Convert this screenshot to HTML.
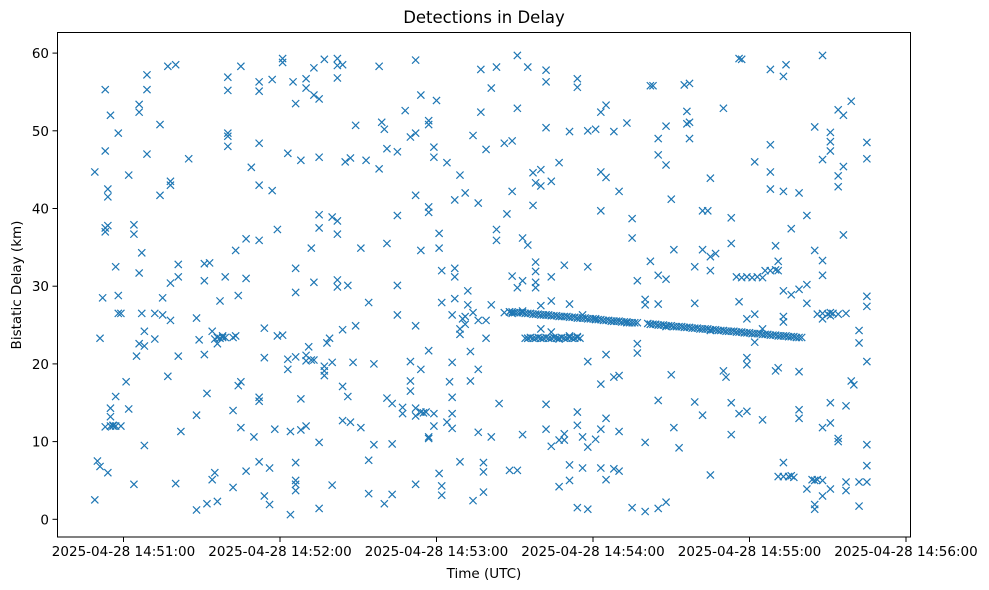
<!DOCTYPE html>
<html><head><meta charset="utf-8"><style>
html,body{margin:0;padding:0;background:#fff;}
svg{display:block;font-family:"DejaVu Sans","Liberation Sans",sans-serif;}
</style></head><body>
<svg id="chart" width="989" height="590" viewBox="0 0 989 590">
<rect x="0" y="0" width="989" height="590" fill="#fff"/>
<text x="484" y="23" font-size="16.5" text-anchor="middle" fill="#000">Detections in Delay</text>
<g id="marks"></g>
<g id="xaxis"></g>
<g id="yaxis"></g>
<rect x="57.5" y="32.5" width="853" height="504.5" fill="none" stroke="#000" stroke-width="1"/>
<text x="484" y="578" font-size="13.5" text-anchor="middle" fill="#000">Time (UTC)</text>
<text transform="translate(21,285) rotate(-90)" font-size="13.5" text-anchor="middle" fill="#000">Bistatic Delay (km)</text>
</svg>
<script>
// seconds after 14:50:00 UTC, delay in km
const xTickSeconds = [60,120,180,240,300,360];
const xTickLabels = ["2025-04-28 14:51:00","2025-04-28 14:52:00","2025-04-28 14:53:00","2025-04-28 14:54:00","2025-04-28 14:55:00","2025-04-28 14:56:00"];
const yTicks = [0,10,20,30,40,50,60];
const detections = [
[49,44.7],[49,2.5],[50,7.5],[51,23.3],[51,6.8],[52,28.5],[53,55.3],[53,47.4],[53,37.5],[53,37],[53,11.9],[54,42.5],[54,41.5],[54,37.8],[54,6],[55,52],[55,14.3],[55,13.2],[55,12],[56,12],[56,12.1],[57,12],[57,32.5],[57,15.8],[58,49.7],[58,28.8],[58,26.5],[59,26.5],[59,12],
[61,17.7],[62,14.2],[62,44.3],[64,37.9],[64,36.7],[64,4.5],[65,21],[66,52.4],[66,53.4],[66,31.7],[66,22.6],[67,34.3],[67,26.5],[68,9.5],[68,24.2],[68,22.3],[69,57.2],[69,55.3],[69,47],
[72,26.5],[72,23.2],[74,50.8],[74,41.7],[75,26.3],[75,28.5],[77,58.3],[77,18.4],[78,43],[78,43.5],[78,30.4],[78,25.6],[80,58.5],[80,4.6],[81,32.8],[81,31.2],[81,21],[82,11.3],[85,46.4],
[88,1.2],[88,13.4],[88,25.9],[89,23.1],[91,32.9],[91,30.7],[91,21.2],[92,16.2],[92,2],[93,33],[94,5.1],[94,24.2],[95,6],[96,2.3],[96,22.6],[97,23.3],[97,28.1],[98,23.4],[99,31.2],[95,23.2],[96,23.4],[98,23.6],[99,23.4],
[100,55.2],[100,56.9],[100,49.3],[100,49.7],[100,48],[102,23.4],[102,14],[102,4.1],[103,34.6],[103,23.6],[104,28.8],[104,17.2],[105,58.3],[105,11.8],[105,17.7],[107,31],[107,6.2],[107,36.1],[109,45.3],[110,10.6],
[112,55.1],[112,56.3],[112,43],[112,35.9],[112,48.4],[112,15.7],[112,15.2],[112,7.4],[114,24.6],[114,20.8],[114,3],[116,1.9],[116,6.6],[117,56.6],[117,42.3],[118,11.6],[119,37.3],[119,23.6],
[121,23.7],[121,58.8],[121,59.3],[123,47.1],[123,19.3],[123,20.6],[124,0.6],[124,11.3],[125,56.3],[126,32.3],[126,29.2],[126,53.5],[126,20.9],[126,7.3],[126,5],[126,4.5],[126,3.7],[128,46.2],[128,15.5],[128,11.5],
[130,55.5],[130,56.7],[130,20.4],[130,12],[130,21.1],[131,22.2],[132,34.9],[132,20.5],[133,30.5],[133,58.1],[133,54.6],[133,20.5],[135,54.1],[135,9.9],[135,1.4],[135,37.5],[135,39.2],[135,46.6],
[137,59.2],[137,19.1],[137,19.7],[137,18.5],[138,22.7],[139,23.3],[140,4.4],[140,20.2],[140,38.9],[142,56.8],[142,58.4],[142,59.3],[142,38.4],[142,36.7],[142,30.8],[142,29.9],
[144,24.4],[144,17.1],[144,12.7],[144,58.5],[145,46],[146,30.1],[146,15.8],[147,46.5],[147,12.5],[148,20.2],[149,50.7],[149,24.9],[151,34.9],[151,11.8],[153,46.2],[154,27.9],[154,7.6],[154,3.3],[156,20],[156,9.6],
[158,45.1],[158,58.3],[159,51.1],[160,50.2],[160,2],[161,47.7],[161,35.5],[161,15.6],[163,14.9],[163,3.2],[163,9.7],[165,47.3],[165,39.1],[165,30.1],[165,26.3],[167,14.4],[167,13.6],[168,52.6],
[170,49.2],[170,20.3],[170,17.8],[170,16.5],[172,24.9],[172,41.7],[172,59.1],[172,49.7],[172,14.3],[172,13.3],[172,4.5],[174,54.6],[174,34.6],[174,19.3],[174,13.8],[175,13.7],[176,13.8],
[177,51.3],[177,50.8],[177,39.5],[177,40.2],[177,10.6],[177,10.4],[177,21.7],[179,46.6],[179,12],[179,13.6],[179,47.9],[180,53.9],[181,36.8],[181,34.9],[181,5.9],[182,27.9],[182,32],[182,3.1],[182,4.3],
[184,45.9],[184,12.5],[185,17.7],[186,15.7],[186,13.6],[186,20.2],[186,26.3],[186,11.7],[187,31.2],[187,32.3],[187,28.4],[187,41.1],[189,23.8],[189,24.5],[189,7.4],[189,44.3],
[190,25.8],[191,26.1],[191,42],[191,25.1],[192,27.6],[192,29.4],[193,21.6],[193,17.8],[194,49.4],[194,26.6],[194,2.4],[196,40.7],[196,19.3],[196,25.6],[196,11.2],[197,52.4],[197,57.9],[198,3.5],[198,7.3],[198,6.1],
[199,47.6],[199,25.6],[199,23.3],[201,55.5],[201,27.6],[201,10.6],[203,58.2],[203,37.3],[203,35.9],[204,14.9],[206,48.4],[206,26.6],[207,39.3],[208,6.3],[208,26.7],
[209,48.7],[209,42.2],[209,31.3],[209,26.5],[211,59.7],[211,6.3],[211,29.8],[211,52.9],[213,30.7],[213,10.9],[213,26.8],[213,36.2],[215,58.2],[215,35.3],[215,23.3],
[217,40.4],[217,44.6],[218,43.3],[218,33.1],[218,31.9],[218,29.8],[218,30.5],[220,23.3],[220,45],[220,42.9],[220,27.5],[220,24.5],
[222,56.3],[222,57.8],[222,50.4],[222,26.3],[222,14.8],[222,11.6],[224,43.5],[224,31.2],[224,28.1],[224,24.1],[224,9.4],[227,45.9],[227,23.2],[227,10.2],[227,4.2],[229,32.7],[229,11],[229,10.2],
[231,49.9],[231,27.7],[231,23.6],[231,5],[231,7],[234,55.6],[234,56.7],[234,13.8],[234,12.1],[234,1.5],[234,23.5],[236,26.3],[236,10.6],[236,6.6],[238,32.5],[238,50],[238,1.3],[238,20.3],[238,9.3],
[241,50.2],[241,25.8],[241,10.3],[243,44.7],[243,39.7],[243,52.4],[243,17.4],[243,6.6],[243,11.6],[245,44],[245,53.3],[245,21.2],[245,13],[245,5.1],[248,49.9],[248,25.5],[248,18.3],[248,6.5],
[250,42.2],[250,18.5],[250,11.3],[250,6.2],[253,51],[253,25.3],[255,38.7],[255,36.2],[255,1.5],[257,30.7],[257,21.4],[257,22.6],[260,1],[260,28.3],[260,27.6],[260,9.9],
[262,55.8],[263,55.8],[262,25.1],[262,33.2],[265,46.9],[265,49],[265,31.4],[265,27.7],[265,1.4],[265,15.3],[268,45.6],[268,50.6],[268,30.9],[268,2.2],[268,24.8],[270,41.2],[270,18.6],[271,34.7],[271,11.8],[273,9.2],
[275,55.9],[277,56.1],[276,52.5],[276,50.9],[277,51.1],[277,49],[279,32.5],[279,27.8],[279,15.1],[282,34.7],[282,39.7],[282,13.4],[284,39.7],[285,33.8],[285,43.9],[285,32],[285,24.3],[285,5.7],[287,34.2],
[290,52.9],[290,19.1],[291,18.3],[293,38.8],[293,35.5],[293,15],[293,10.9],[296,13.6],[296,59.3],[297,59.2],[296,28],[299,25.8],[299,20.8],[299,19.9],[299,13.9],[302,46],[302,22.8],[302,26.4],[305,24.5],[305,12.8],
[308,42.5],[308,57.9],[308,48.2],[308,44.7],[310,35.2],[310,19.1],[311,33.2],[311,19.5],[313,42.2],[313,57],[313,29.4],[313,25.4],[313,26.1],[313,7.3],[314,58.5],[316,37.4],[316,28.9],[316,5.6],
[319,42],[319,19],[319,14.1],[319,13],[319,29.6],[322,39.1],[322,30.2],[322,27.8],[322,3.9],[325,50.5],[325,34.6],[325,5],[325,1.3],[325,1.9],[328,31.4],[328,33.3],[328,46.3],[328,59.7],[328,25.8],[328,11.8],[328,3],
[331,49.8],[331,48.6],[331,47.4],[331,26.2],[331,12.4],[331,15],[331,3.9],[331,26.6],[334,44.2],[334,52.7],[334,42.8],[334,10],[334,10.4],[336,45.4],[336,52],[336,36.6],[337,14.6],[337,3.7],[337,4.8],
[339,53.8],[339,17.8],[340,17.3],[342,24.3],[342,22.7],[342,1.7],[342,4.8],[345,46.4],[345,48.5],[345,28.7],[345,27.4],[345,20.3],[345,9.6],[345,6.9],[345,4.8],
[295,31.2],[297,31.1],[299,31.2],[301,31.1],[303,31.2],[305,31.1],[306,32],[308,32],[310,32.1],[311,32],
[311,5.5],[313,5.5],[315,5.5],[317,5.4],[324,5.1],[326,5.1],[328,5.0],
[326,26.4],[328,26.5],[330,26.4],[332,26.5],[334,26.4],[337,26.5]
];
// dense target track
const trackTimes = [208,209,210,211,212,213,214,215,216,217,218,219,220,221,222,223,224,225,226,227,228,229,230,231,232,233,234,235,236,237,238,239,240,241,242,243,244,245,246,247,248,249,250,251,252,253,254,255,256,257,261,262,263,264,265,266,267,268,269,270,271,272,273,274,275,276,277,278,279,280,281,282,283,284,285,286,287,288,289,290,291,292,293,294,295,296,297,298,299,300,301,302,303,304,305,306,307,308,309,310,311,312,313,314,315,316,317,318,319,320];
const trackDelays = [26.7,26.7,26.6,26.6,26.6,26.6,26.5,26.5,26.5,26.4,26.4,26.4,26.3,26.3,26.3,26.3,26.2,26.2,26.2,26.1,26.1,26.1,26.1,26.0,26.0,26.0,25.9,25.9,25.9,25.9,25.8,25.8,25.8,25.7,25.7,25.7,25.6,25.6,25.6,25.5,25.5,25.5,25.5,25.4,25.4,25.4,25.3,25.3,25.3,25.3,25.2,25.1,25.1,25.1,25.0,25.0,25.0,24.9,24.9,24.9,24.8,24.8,24.8,24.8,24.7,24.7,24.7,24.6,24.6,24.6,24.5,24.5,24.5,24.5,24.4,24.4,24.4,24.3,24.3,24.3,24.2,24.2,24.2,24.2,24.1,24.1,24.1,24.0,24.0,24.0,23.9,23.9,23.9,23.9,23.8,23.8,23.8,23.7,23.7,23.7,23.6,23.6,23.6,23.6,23.5,23.5,23.5,23.4,23.4,23.4];
// secondary cluster
const clusterTimes = [214,215,216,217,218,219,220,221,222,223,224,225,226,227,228,229,230,231,232,233,234,235];
const clusterDelays = [23.3,23.3,23.4,23.3,23.3,23.4,23.3,23.3,23.4,23.3,23.3,23.4,23.3,23.3,23.4,23.3,23.3,23.4,23.3,23.3,23.4,23.3];

const NS='http://www.w3.org/2000/svg';
const xScale = s => 123.5 + (s-60)*(782.5/300);
const yScale = v => 519.3 - v*7.77;

const marks = document.getElementById('marks');
function addMark(t,v){
  const x=xScale(t), y=yScale(v), r=3.6;
  const p=document.createElementNS(NS,'path');
  p.setAttribute('d',`M${x-r},${y-r}L${x+r},${y+r}M${x-r},${y+r}L${x+r},${y-r}`);
  p.setAttribute('stroke','#1f77b4');
  p.setAttribute('stroke-width','1.2');
  p.setAttribute('fill','none');
  
  
  marks.appendChild(p);
}
detections.forEach(d=>addMark(d[0],d[1]));
trackTimes.forEach((t,i)=>addMark(t,trackDelays[i]));
clusterTimes.forEach((t,i)=>addMark(t,clusterDelays[i]));

const xa=document.getElementById('xaxis');
xTickSeconds.forEach((s,i)=>{
  const x=xScale(s);
  const l=document.createElementNS(NS,'line');
  l.setAttribute('x1',x);l.setAttribute('x2',x);l.setAttribute('y1',537);l.setAttribute('y2',542);
  l.setAttribute('stroke','#000');
  
  
  xa.appendChild(l);
  const t=document.createElementNS(NS,'text');
  t.setAttribute('x',x);t.setAttribute('y',556);t.setAttribute('font-size','13.5');t.setAttribute('text-anchor','middle');
  t.textContent=xTickLabels[i];
  
  
  xa.appendChild(t);
});
const ya=document.getElementById('yaxis');
yTicks.forEach(v=>{
  const y=yScale(v);
  const l=document.createElementNS(NS,'line');
  l.setAttribute('x1',52.5);l.setAttribute('x2',57.5);l.setAttribute('y1',y);l.setAttribute('y2',y);
  l.setAttribute('stroke','#000');
  
  
  ya.appendChild(l);
  const t=document.createElementNS(NS,'text');
  t.setAttribute('x',49);t.setAttribute('y',y+5);t.setAttribute('font-size','13.5');t.setAttribute('text-anchor','end');
  t.textContent=String(v);
  
  
  ya.appendChild(t);
});
</script>
</body></html>
